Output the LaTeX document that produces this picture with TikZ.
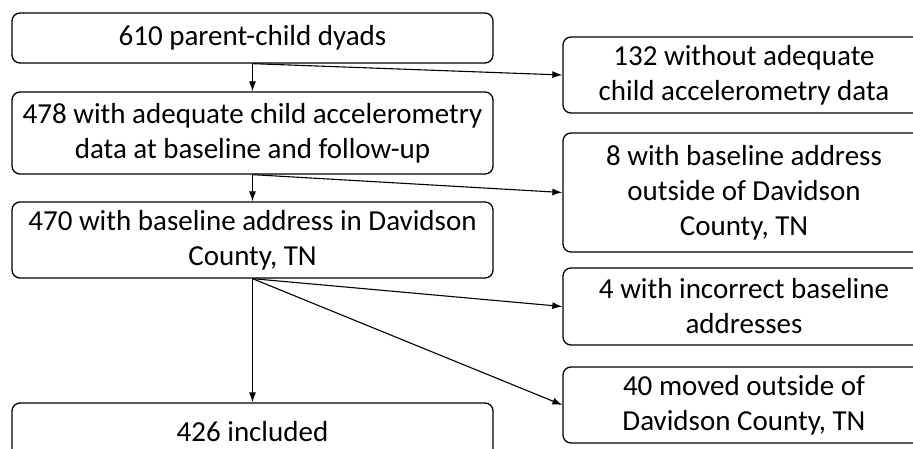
\documentclass[tikz,border=0pt]{standalone}
\usepackage{fontspec}
\setmainfont{Carlito}
\usetikzlibrary{arrows.meta, positioning}
\tikzstyle{line} = [draw, line width=1.1pt, -{Latex[length=10pt,width=7pt]}]
\tikzstyle{box} = [draw, line width=1.3pt, rounded corners=8pt, align=center, inner sep=0pt, font=\fontsize{29}{35}\selectfont]
\tikzstyle{mainbox} = [box, minimum width=481pt]
\tikzstyle{sidebox} = [box, minimum width=362pt]

\begin{document}
\begin{tikzpicture}[x=1pt,y=-1pt]
\useasboundingbox (0,0) rectangle (913,449);
\clip (0,0) rectangle (913,449);

% Main column
\node[mainbox, minimum height=50pt] (dyads) at (252.5,38) {610 parent-child dyads};
\node[mainbox, minimum height=82pt] (accel) at (252.5,133) {478 with adequate child accelerometry\\data at baseline and follow-up};
\node[mainbox, minimum height=76pt] (county) at (252.5,240) {470 with baseline address in Davidson\\County, TN};
\node[mainbox, minimum height=58pt] (incl) at (252.5,432) {426 included};

% Exclusions
\node[sidebox, minimum height=76pt] (noaccel) at (744,75) {132 without adequate\\child accelerometry data};
\node[sidebox, minimum height=119pt] (outside) at (744,192.5) {8 with baseline address\\outside of Davidson\\County, TN};
\node[sidebox, minimum height=77pt] (wrong) at (744,306.5) {4 with incorrect baseline\\addresses};
\node[sidebox, minimum height=76pt] (moved) at (744,405) {40 moved outside of\\Davidson County, TN};

% Draw arrows
\path[line] (dyads.south) -- (accel.north);
\path[line] (dyads.south) -- (noaccel.west);
\path[line] (accel.south) -- (county.north);
\path[line] (accel.south) -- (outside.west);
\path[line] (county.south) -- (incl.north);
\path[line] (county.south) -- (wrong.west);
\path[line] (county.south) -- (moved.west);

\end{tikzpicture}
\end{document}
